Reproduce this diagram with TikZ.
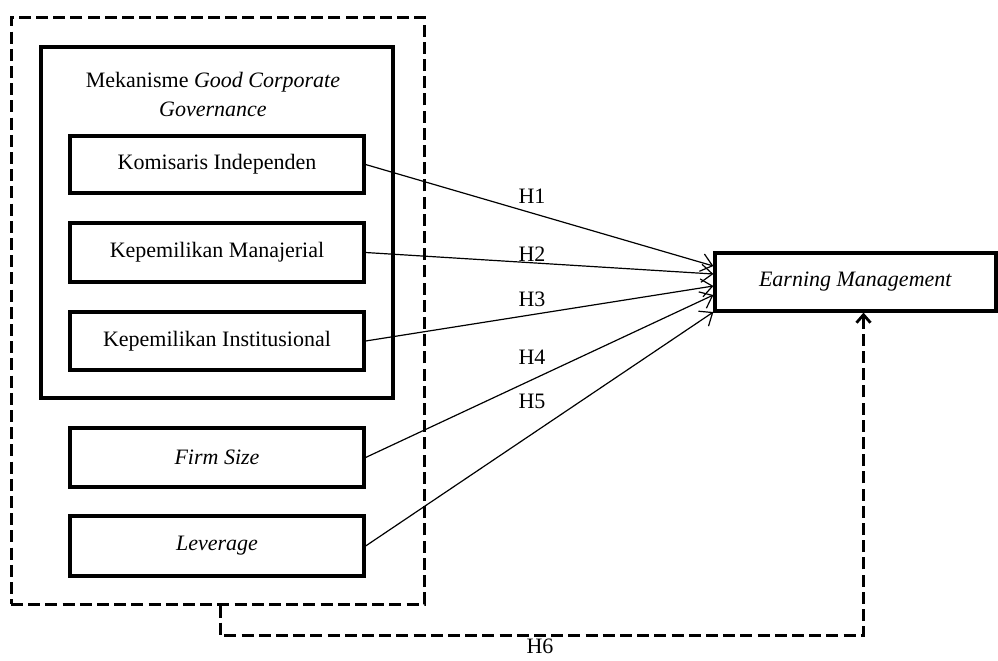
\documentclass[tikz,border=0pt]{standalone}
\usepackage{fontspec}
\setmainfont{Liberation Serif}
\usetikzlibrary{arrows.meta,calc}
\begin{document}
\begin{tikzpicture}[x=0.5pt,y=-0.5pt,
  varbox/.style={draw,line width=1.6pt,minimum width=147pt,inner sep=0pt,font=\fontsize{11}{13}\selectfont},
  frame/.style={draw,line width=1.6pt,inner sep=0pt},
  dashframe/.style={draw,line width=1.5pt,dash pattern=on 6pt off 2.6pt,inner sep=0pt},
  link/.style={line width=0.6pt,-{Straight Barb[length=5.5pt,width=9pt,line width=0.6pt]}},
  dlink/.style={line width=1.5pt,dash pattern=on 6pt off 2.6pt,-{Straight Barb[length=4pt,width=7pt,line width=1.4pt]}},
  hlabel/.style={font=\fontsize{11}{13}\selectfont,inner sep=0pt}]
\useasboundingbox (0,0) rectangle (998,660);
\node[dashframe,minimum width=206.5pt,minimum height=293.5pt] (outer) at (217.5,310.5) {};
\node[frame,minimum width=176pt,minimum height=175.5pt] (inner) at (217,222.5) {};
\node[font=\fontsize{11}{14.5}\selectfont,align=center,inner sep=0pt] (title) at (213,94) {Mekanisme \textit{Good Corporate}\\\textit{Governance}};
\node[varbox,minimum height=28.5pt] (ki) at (217,164.5) {Komisaris Independen};
\node[varbox,minimum height=29.5pt] (km) at (217,252.5) {Kepemilikan Manajerial};
\node[varbox,minimum height=29pt] (kin) at (217,341) {Kepemilikan Institusional};
\node[varbox,minimum height=29.5pt] (fs) at (217,457.5) {\textit{Firm Size}};
\node[varbox,minimum height=30pt] (lev) at (217,546) {\textit{Leverage}};
\node[varbox,minimum width=140.5pt,minimum height=29pt] (em) at (855.5,282) {\textit{Earning Management}};
\draw[link] (ki.east) -- ($(em.west)+(0,-16)$);
\draw[link] (km.east) -- ($(em.west)+(0,-8)$);
\draw[link] (kin.east) -- ($(em.west)+(0,4)$);
\draw[link] (fs.east) -- ($(em.west)+(0,13)$);
\draw[link] (lev.east) -- ($(em.west)+(0,30)$);
\draw[dlink] ($(outer.south)+(2.5,0)$) -- ++(0,30) -| ($(em.south)+(8,0)$);
\node[hlabel] (h1) at (532,196) {H1};
\node[hlabel] (h2) at (532,254) {H2};
\node[hlabel] (h3) at (532,299) {H3};
\node[hlabel] (h4) at (532,357) {H4};
\node[hlabel] (h5) at (532,401) {H5};
\node[hlabel] (h6) at (540,646) {H6};
\end{tikzpicture}
\end{document}
